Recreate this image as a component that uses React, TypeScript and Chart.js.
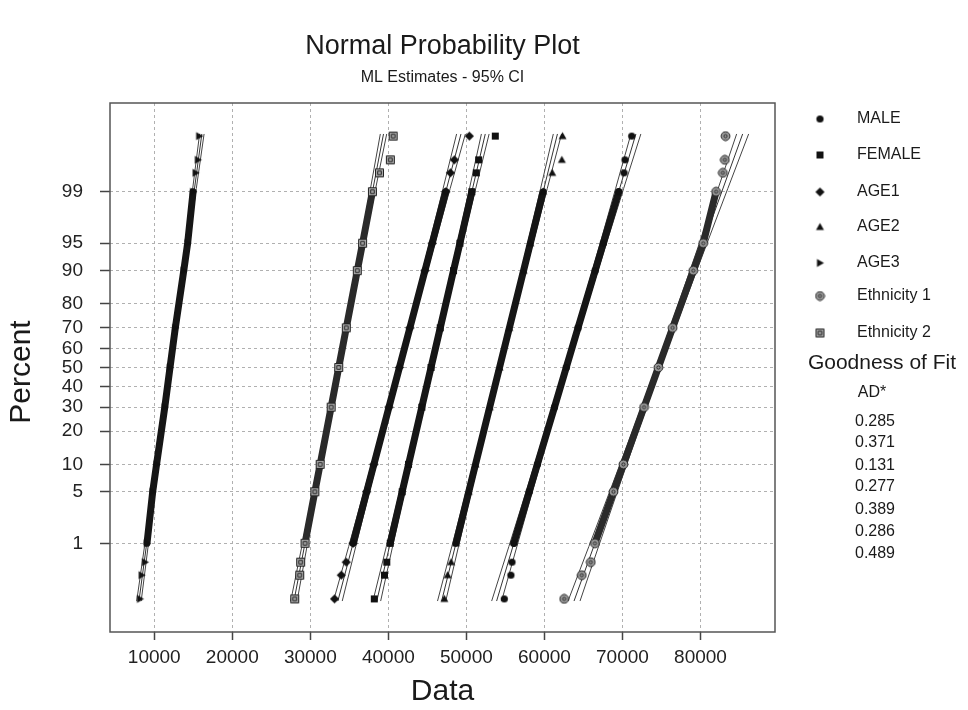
import React, { useEffect, useRef } from "react";
import { Chart, registerables } from "chart.js";
Chart.register(...registerables);

// ---------- data ----------
const seriesNames = ["MALE", "FEMALE", "AGE1", "AGE2", "AGE3", "Ethnicity 1", "Ethnicity 2"];
const adValues = ["0.285", "0.371", "0.131", "0.277", "0.389", "0.286", "0.489"];
const markerKinds = ["circle", "square", "diamond", "triangle", "rtri", "eth1", "eth2"];

const percentTicks = [1, 5, 10, 20, 30, 40, 50, 60, 70, 80, 90, 95, 99];
const xTicks = [10000, 20000, 30000, 40000, 50000, 60000, 70000, 80000];

// percent levels at which values were read
const bandPct = [1, 5, 10, 30, 50, 70, 90, 95, 99];
const tailPct = [0.11, 0.3, 0.5, 99.5, 99.7, 99.89];
const fitPct = [0.1, 99.9];
const ciPct = [0.1, 5, 50, 95, 99.9];

// dense part of each sample (data values)
const maleBand = [56080, 58050, 59100, 61290, 62800, 64310, 66500, 67550, 69520];
const femaleBand = [40240, 41770, 42590, 44290, 45470, 46650, 48350, 49170, 50700];
const age1Band = [35480, 37220, 38150, 40080, 41420, 42760, 44690, 45620, 47360];
const age2Band = [48670, 50300, 51170, 52990, 54250, 55510, 57330, 58200, 59840];
const age3Band = [9070, 9800, 10300, 11350, 12020, 12700, 13780, 14280, 14980];
const eth1Band = [66470, 68850, 70120, 72770, 74600, 76430, 79080, 80350, 82000];
const eth2Band = [29320, 30580, 31260, 32670, 33640, 34610, 36020, 36700, 37960];

// sparse extreme observations
const maleTail = [54860, 55710, 55840, 70200, 70330, 71190];
const femaleTail = [38200, 39500, 39800, 51270, 51570, 53700];
const age1Tail = [33100, 33970, 34600, 47950, 48460, 50380];
const age2Tail = [47180, 47600, 48040, 61000, 62230, 62320];
const age3Tail = [8171, 8390, 8810, 15300, 15590, 15756];
const eth1Tail = [62530, 64790, 65940, 82870, 83120, 83210];
const eth2Tail = [28000, 28640, 28760, 38860, 40260, 40620];

// fitted lines (x at 0.1% and 99.9%)
const maleFit = [53876, 71724];
const femaleFit = [38520, 52420];
const age1Fit = [33530, 49310];
const age2Fit = [46830, 61670];
const age3Fit = [8040, 16100];
const eth1Fit = [63795, 85405];
const eth2Fit = [27900, 39380];

// 95% confidence bands
const maleCiLo = [53241, 57645, 62540, 67147, 71089];
const maleCiHi = [54511, 58453, 63060, 67955, 72359];
const femaleCiLo = [38025, 41455, 45268, 48855, 51925];
const femaleCiHi = [39015, 42085, 45672, 49485, 52915];
const age1CiLo = [32968, 36863, 41190, 45263, 48748];
const age1CiHi = [34092, 37577, 41650, 45977, 49872];
const age2CiLo = [46302, 49964, 54034, 57864, 61142];
const age2CiHi = [47358, 50636, 54466, 58536, 62198];
const age3CiLo = [7753, 9742, 11953, 14032, 15813];
const age3CiHi = [8327, 10108, 12187, 14398, 16387];
const eth1CiLo = [63026, 68357, 74285, 79863, 84636];
const eth1CiHi = [64564, 69337, 74915, 80843, 86174];
const eth2CiLo = [27491, 30324, 33473, 36436, 38971];
const eth2CiHi = [28309, 30844, 33807, 36956, 39789];

const bands = [maleBand, femaleBand, age1Band, age2Band, age3Band, eth1Band, eth2Band];
const tails = [maleTail, femaleTail, age1Tail, age2Tail, age3Tail, eth1Tail, eth2Tail];
const fits = [maleFit, femaleFit, age1Fit, age2Fit, age3Fit, eth1Fit, eth2Fit];
const ciLos = [maleCiLo, femaleCiLo, age1CiLo, age2CiLo, age3CiLo, eth1CiLo, eth2CiLo];
const ciHis = [maleCiHi, femaleCiHi, age1CiHi, age2CiHi, age3CiHi, eth1CiHi, eth2CiHi];

// ---------- normal probability transform ----------
function probit(p: number): number {
  const a = [-3.969683028665376e1, 2.209460984245205e2, -2.759285104469687e2, 1.38357751867269e2, -3.066479806614716e1, 2.506628277459239];
  const b = [-5.447609879822406e1, 1.615858368580409e2, -1.556989798598866e2, 6.680131188771972e1, -1.328068155288572e1];
  const c = [-7.784894002430293e-3, -3.223964580411365e-1, -2.400758277161838, -2.549732539343734, 4.374664141464968, 2.938163982698783];
  const d = [7.784695709041462e-3, 3.224671290700398e-1, 2.445134137142996, 3.754408661907416];
  const plow = 0.02425;
  if (p < plow) {
    const q = Math.sqrt(-2 * Math.log(p));
    return (((((c[0] * q + c[1]) * q + c[2]) * q + c[3]) * q + c[4]) * q + c[5]) / ((((d[0] * q + d[1]) * q + d[2]) * q + d[3]) * q + 1);
  }
  if (p > 1 - plow) {
    const q = Math.sqrt(-2 * Math.log(1 - p));
    return -(((((c[0] * q + c[1]) * q + c[2]) * q + c[3]) * q + c[4]) * q + c[5]) / ((((d[0] * q + d[1]) * q + d[2]) * q + d[3]) * q + 1);
  }
  const q = p - 0.5;
  const r = q * q;
  return ((((((a[0] * r + a[1]) * r + a[2]) * r + a[3]) * r + a[4]) * r + a[5]) * q) / (((((b[0] * r + b[1]) * r + b[2]) * r + b[3]) * r + b[4]) * r + 1);
}
const zOf = (pct: number) => probit(pct / 100);

const FONT = "'Liberation Sans', Arial, sans-serif";

function makeMarker(kind: string): HTMLCanvasElement {
  const cv = document.createElement("canvas");
  cv.width = 11;
  cv.height = 11;
  const g = cv.getContext("2d")!;
  const c = 5.5;
  g.fillStyle = "#111";
  g.strokeStyle = "#222";
  g.lineWidth = 1;
  g.beginPath();
  if (kind === "circle") {
    g.arc(c, c, 3.6, 0, Math.PI * 2);
    g.fill();
  } else if (kind === "square") {
    g.rect(c - 3.5, c - 3.5, 7, 7);
    g.fill();
  } else if (kind === "diamond") {
    g.moveTo(c, c - 4.6);
    g.lineTo(c + 4.6, c);
    g.lineTo(c, c + 4.6);
    g.lineTo(c - 4.6, c);
    g.closePath();
    g.fill();
  } else if (kind === "triangle") {
    g.moveTo(c, c - 4);
    g.lineTo(c + 4, c + 3);
    g.lineTo(c - 4, c + 3);
    g.closePath();
    g.fill();
  } else if (kind === "rtri") {
    g.moveTo(c + 4, c);
    g.lineTo(c - 3, c - 4);
    g.lineTo(c - 3, c + 4);
    g.closePath();
    g.fill();
  } else if (kind === "eth1") {
    g.fillStyle = "#9a9a9a";
    g.arc(c, c, 4.4, 0, Math.PI * 2);
    g.fill();
    g.stroke();
    g.beginPath();
    g.arc(c, c, 1.6, 0, Math.PI * 2);
    g.stroke();
  } else {
    g.fillStyle = "#a8a8a8";
    g.rect(c - 4, c - 4, 8, 8);
    g.fill();
    g.stroke();
    g.beginPath();
    g.rect(c - 1.8, c - 1.8, 3.6, 3.6);
    g.stroke();
  }
  return cv;
}

export default function App() {
  const ref = useRef<HTMLCanvasElement>(null);
  useEffect(() => {
    document.documentElement.style.overflow = "hidden";
    document.body.style.overflow = "hidden";
    const markers = markerKinds.map(makeMarker);
    const tailSets: any[] = [];
    const bandSets: any[] = [];
    const lineSets: any[] = [];
    seriesNames.forEach((name, i) => {
      tailSets.push({
        label: name,
        data: tails[i].map((x, j) => ({ x, y: zOf(tailPct[j]) })),
        showLine: false,
        pointStyle: markers[i],
        pointRadius: 4,
        order: 0,
      });
      bandSets.push({
        label: name + " band",
        data: bands[i].map((x, j) => ({ x, y: zOf(bandPct[j]) })),
        showLine: true,
        borderColor: i >= 5 ? "#2a2a2a" : "#161616",
        borderWidth: 7,
        borderCapStyle: "round",
        borderJoinStyle: "round",
        pointStyle: markers[i],
        pointRadius: 4,
        order: 1,
      });
      lineSets.push({
        label: name + " fit",
        data: fits[i].map((x, j) => ({ x, y: zOf(fitPct[j]) })),
        showLine: true,
        borderColor: "#333",
        borderWidth: 1,
        pointRadius: 0,
        order: 2,
      });
      [ciLos[i], ciHis[i]].forEach((arr, k) => {
        lineSets.push({
          label: name + (k ? " upper" : " lower"),
          data: arr.map((x, j) => ({ x, y: zOf(ciPct[j]) })),
          showLine: true,
          borderColor: "#444",
          borderWidth: 1,
          pointRadius: 0,
          cubicInterpolationMode: "monotone",
          order: 2,
        });
      });
    });

    const decor = {
      id: "decor",
      afterDraw(chart: any) {
        const ctx = chart.ctx as CanvasRenderingContext2D;
        const ca = chart.chartArea;
        ctx.save();
        ctx.strokeStyle = "#555";
        ctx.lineWidth = 1.5;
        ctx.strokeRect(ca.left, ca.top, ca.right - ca.left, ca.bottom - ca.top);
        const cx = (ca.left + ca.right) / 2;
        ctx.fillStyle = "#1a1a1a";
        ctx.textBaseline = "middle";
        ctx.textAlign = "center";
        ctx.font = `27px ${FONT}`;
        ctx.fillText("Normal Probability Plot", cx, 39);
        ctx.font = `16px ${FONT}`;
        ctx.fillText("ML Estimates - 95% CI", cx, 70);
        ctx.font = `30px ${FONT}`;
        ctx.fillText("Data", cx, 684);
        ctx.save();
        ctx.translate(14, 364);
        ctx.rotate(-Math.PI / 2);
        ctx.fillText("Percent", 0, 0);
        ctx.restore();
        // legend
        const rows = [111, 147, 184, 219, 255, 288, 325];
        ctx.textAlign = "left";
        ctx.font = `16px ${FONT}`;
        seriesNames.forEach((n, i) => {
          const m = markers[i];
          ctx.drawImage(m, 812 - m.width / 2, rows[i] - m.height / 2);
          ctx.fillText(n, 849, rows[i]);
        });
        ctx.textAlign = "center";
        ctx.font = `21px ${FONT}`;
        ctx.fillText("Goodness of Fit", 874, 355);
        ctx.font = `16px ${FONT}`;
        ctx.fillText("AD*", 864, 385);
        const vr = [414, 435, 457.5, 479, 502, 524, 546];
        adValues.forEach((v, i) => ctx.fillText(v, 867, vr[i]));
        ctx.restore();
      },
    };

    const chart = new Chart(ref.current!, {
      type: "scatter",
      data: { datasets: [...tailSets, ...bandSets, ...lineSets] },
      options: {
        responsive: true,
        maintainAspectRatio: false,
        animation: false,
        events: [],
        layout: { padding: { left: 0, top: 95, right: 185, bottom: 0 } },
        plugins: { legend: { display: false }, tooltip: { enabled: false }, title: { display: false } },
        scales: {
          x: {
            type: "linear",
            min: 4330,
            max: 89550,
            afterBuildTicks: (s: any) => {
              s.ticks = xTicks.map((v) => ({ value: v }));
            },
            afterFit: (s: any) => {
              s.height = 78;
            },
            ticks: {
              callback: (v: any) => String(v),
              font: { family: FONT, size: 19 },
              color: "#222",
              padding: 6,
              maxRotation: 0,
              autoSkip: false,
            },
            grid: { color: "#b0b0b0", tickColor: "#444", tickLength: 8, tickWidth: 1.5, tickBorderDash: [] },
            border: { display: false, dash: [3, 3] },
          },
          y: {
            type: "linear",
            min: -3.5,
            max: 3.5,
            afterBuildTicks: (s: any) => {
              s.ticks = percentTicks.map((p) => ({ value: zOf(p) }));
            },
            afterFit: (s: any) => {
              s.width = 102;
            },
            ticks: {
              callback: (_v: any, i: number) => String(percentTicks[i]),
              font: { family: FONT, size: 19 },
              color: "#222",
              padding: 17,
              autoSkip: false,
            },
            grid: { color: "#b0b0b0", tickColor: "#444", tickLength: 10, tickWidth: 1.5, tickBorderDash: [] },
            border: { display: false, dash: [3, 3] },
          },
        },
      } as any,
      plugins: [decor],
    });
    return () => chart.destroy();
  }, []);
  return (
    <div style={{ width: 952, height: 702, position: "relative" }}>
      <canvas ref={ref} />
    </div>
  );
}
